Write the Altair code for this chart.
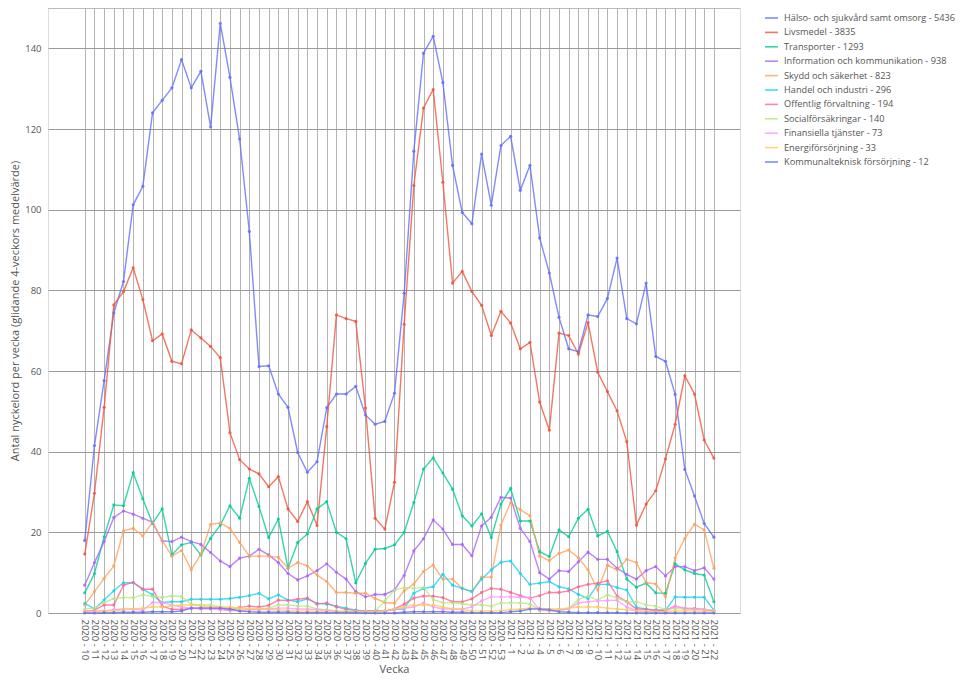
import altair as alt
import pandas as pd

WEEKS = [
    "2020 - 10", "2020 - 11", "2020 - 12", "2020 - 13", "2020 - 14", "2020 - 15", "2020 - 16", "2020 - 17",
    "2020 - 18", "2020 - 19", "2020 - 20", "2020 - 21", "2020 - 22", "2020 - 23", "2020 - 24", "2020 - 25",
    "2020 - 26", "2020 - 27", "2020 - 28", "2020 - 29", "2020 - 30", "2020 - 31", "2020 - 32", "2020 - 33",
    "2020 - 34", "2020 - 35", "2020 - 36", "2020 - 37", "2020 - 38", "2020 - 39", "2020 - 40", "2020 - 41",
    "2020 - 42", "2020 - 43", "2020 - 44", "2020 - 45", "2020 - 46", "2020 - 47", "2020 - 48", "2020 - 49",
    "2020 - 50", "2020 - 51", "2020 - 52", "2020 - 53", "2021 - 1", "2021 - 2", "2021 - 3", "2021 - 4",
    "2021 - 5", "2021 - 6", "2021 - 7", "2021 - 8", "2021 - 9", "2021 - 10", "2021 - 11", "2021 - 12",
    "2021 - 13", "2021 - 14", "2021 - 15", "2021 - 16", "2021 - 17", "2021 - 18", "2021 - 19", "2021 - 20",
    "2021 - 21", "2021 - 22",
]

SERIES = [
    "Hälso- och sjukvård samt omsorg - 5436",
    "Livsmedel - 3835",
    "Transporter - 1293",
    "Information och kommunikation - 938",
    "Skydd och säkerhet - 823",
    "Handel och industri - 296",
    "Offentlig förvaltning - 194",
    "Socialförsäkringar - 140",
    "Finansiella tjänster - 73",
    "Energiförsörjning - 33",
    "Kommunalteknisk försörjning - 12",
]

COLORS = ["#636EFA", "#EF553B", "#00CC96", "#AB63FA", "#FFA15A", "#19D3F3",
          "#FF6692", "#B6E880", "#FF97FF", "#FECB52", "#636EFA"]

halso = [18, 41.5, 57.6, 74.4, 82.2, 101.2, 105.8, 124.0, 127.1, 130.2, 137.2, 130.2, 134.3, 120.5, 146.2,
         132.8, 117.5, 94.6, 61.1, 61.3, 54.3, 51.0, 39.8, 34.9, 37.5, 50.9, 54.3, 54.3, 56.2, 49.1, 46.8,
         47.5, 54.5, 79.3, 114.5, 138.8, 143.0, 131.5, 111.0, 99.3, 96.5, 113.8, 101.1, 115.9, 118.2, 104.8,
         111.0, 93.0, 84.3, 73.3, 65.5, 64.8, 73.9, 73.5, 78.0, 88.0, 73.0, 71.7, 81.8, 63.6, 62.4, 54.2,
         35.6, 29.0, 22.2, 18.8]
livsmedel = [14.6, 29.7, 51.0, 76.4, 79.7, 85.6, 77.7, 67.5, 69.2, 62.4, 61.8, 70.2, 68.2, 66.1, 63.3, 44.7,
             38.0, 35.7, 34.5, 31.3, 33.8, 25.8, 22.7, 27.6, 21.7, 46.2, 73.9, 73.0, 72.3, 50.8, 23.5, 20.8,
             32.4, 71.6, 106.0, 125.2, 129.8, 106.8, 81.8, 84.7, 79.7, 76.3, 68.8, 74.8, 71.9, 65.5, 67.1,
             52.3, 45.3, 69.4, 68.8, 64.2, 72.0, 59.7, 54.9, 50.1, 42.5, 21.8, 27.0, 30.3, 38.2, 46.8, 58.8,
             54.3, 42.9, 38.4]
transport = [5.0, 9.8, 18.9, 26.8, 26.6, 34.8, 28.3, 22.2, 25.8, 14.4, 16.9, 17.5, 14.4, 18.5, 21.8, 26.6,
             23.5, 33.4, 26.4, 18.7, 23.3, 11.1, 17.5, 19.6, 25.8, 27.6, 20.0, 18.4, 7.5, 12.3, 15.8, 16.0,
             16.9, 20.0, 27.4, 35.7, 38.5, 34.7, 30.7, 24.1, 21.6, 24.6, 18.7, 27.0, 30.9, 22.8, 22.8, 15.2,
             14.0, 20.6, 18.9, 23.5, 25.7, 19.1, 20.3, 15.2, 8.4, 6.4, 7.4, 5.0, 4.9, 12.2, 10.7, 9.8, 9.4, 2.8]
info = [6.9, 12.5, 17.7, 23.7, 25.3, 24.5, 23.5, 22.5, 17.9, 17.7, 18.8, 17.7, 17.0, 15.0, 12.9, 11.5, 13.6,
        14.1, 15.8, 14.4, 12.5, 9.8, 8.2, 9.2, 10.5, 12.2, 10.1, 8.4, 5.3, 4.0, 4.6, 4.6, 5.7, 9.3, 15.4,
        18.4, 23.1, 20.8, 17.0, 17.0, 14.2, 21.6, 23.7, 28.7, 28.5, 21.0, 17.7, 10.0, 8.4, 10.5, 10.3, 12.7,
        15.1, 13.3, 13.3, 11.1, 9.6, 8.4, 10.5, 11.5, 9.2, 11.5, 11.5, 10.5, 11.2, 8.4]
skydd = [2.0, 5.3, 8.6, 11.7, 20.4, 21.0, 19.1, 22.5, 18.0, 14.1, 15.5, 10.7, 14.6, 22.0, 22.3, 21.0, 17.5,
         14.1, 14.1, 14.1, 13.8, 11.1, 12.5, 11.7, 9.4, 7.8, 5.1, 5.1, 4.9, 4.9, 3.6, 2.6, 2.4, 5.5, 7.2,
         10.3, 11.9, 8.4, 8.4, 6.1, 5.3, 8.9, 8.9, 21.8, 27.4, 25.6, 24.1, 14.1, 13.0, 14.8, 15.6, 13.7,
         10.7, 5.7, 11.9, 10.7, 13.3, 12.5, 7.5, 7.2, 4.0, 13.7, 18.5, 22.0, 20.6, 11.1]
handel = [2.4, 1.0, 3.2, 5.5, 7.5, 7.5, 5.9, 4.5, 2.6, 2.8, 2.8, 3.4, 3.4, 3.4, 3.4, 3.6, 3.9, 4.3, 4.9, 3.5,
          4.5, 3.2, 2.8, 3.5, 2.4, 2.2, 1.7, 1.2, 0.7, 0.5, 0.5, 0.5, 0.9, 1.0, 4.9, 6.1, 6.5, 9.6, 6.9, 6.1,
          5.3, 8.4, 10.7, 12.6, 12.9, 9.8, 7.1, 7.4, 7.8, 6.5, 6.0, 4.6, 3.6, 7.1, 7.1, 6.3, 5.7, 1.4, 1.0,
          0.7, 0.7, 4.0, 3.9, 3.9, 3.9, 0.7]
offentlig = [0.3, 0.7, 2.0, 2.0, 6.9, 7.6, 5.9, 5.9, 1.7, 0.9, 0.9, 1.2, 1.2, 1.2, 1.1, 0.7, 1.4, 1.7, 1.5,
             1.9, 3.2, 3.1, 3.4, 3.7, 2.2, 2.5, 1.5, 0.9, 0.6, 0.5, 0.5, 0.5, 1.0, 2.2, 3.7, 4.2, 4.2, 3.8,
             2.8, 2.8, 3.5, 5.1, 6.1, 5.9, 5.1, 4.3, 3.7, 4.3, 5.1, 5.1, 5.5, 6.5, 7.1, 7.4, 8.0, 4.2, 2.8,
             1.0, 0.9, 0.7, 0.7, 1.7, 1.1, 1.1, 0.9, 0.5]
social = [1.0, 1.2, 2.6, 3.6, 3.8, 3.8, 4.5, 4.1, 3.9, 4.2, 4.1, 2.2, 2.0, 2.0, 1.5, 1.2, 1.0, 1.0, 1.0, 1.2,
          2.0, 2.0, 1.7, 1.7, 1.0, 0.8, 0.6, 0.5, 0.4, 0.4, 0.4, 3.0, 5.7, 6.3, 6.1, 6.3, 3.3, 2.6, 2.5, 2.3,
          2.0, 2.0, 1.7, 2.5, 2.5, 2.5, 2.2, 0.7, 0.5, 0.5, 1.1, 3.3, 4.2, 3.2, 4.5, 3.7, 2.8, 2.8, 2.0, 1.7,
          0.9, 1.1, 0.9, 0.9, 0.9, 0.7]
finans = [0.5, 0.5, 0.6, 0.8, 1.0, 1.0, 0.7, 2.6, 2.6, 2.0, 1.5, 1.2, 1.0, 1.0, 0.8, 0.6, 0.6, 0.8, 0.8, 1.0,
          1.2, 1.2, 1.0, 1.0, 0.8, 0.6, 0.4, 0.3, 0.3, 0.3, 0.3, 0.5, 0.8, 1.2, 1.5, 2.5, 1.5, 1.0, 1.0, 1.0,
          1.5, 3.0, 4.0, 4.0, 4.0, 3.9, 3.8, 0.7, 0.6, 0.8, 1.0, 2.5, 2.8, 3.0, 3.1, 3.2, 1.5, 0.5, 0.4, 0.4,
          0.4, 1.7, 1.2, 1.0, 0.8, 0.5]
energi = [0.2, 0.3, 0.5, 0.5, 0.8, 1.0, 1.2, 1.5, 1.5, 1.8, 2.0, 2.0, 1.8, 1.5, 1.5, 1.5, 1.2, 1.0, 1.0, 0.8,
          0.8, 0.6, 0.5, 0.5, 0.3, 0.3, 0.2, 0.2, 0.2, 0.2, 0.3, 0.5, 1.0, 1.5, 2.0, 2.0, 2.0, 1.5, 1.0, 0.8,
          0.6, 0.5, 0.5, 0.6, 0.8, 1.0, 1.2, 1.2, 1.0, 1.0, 1.2, 1.5, 1.5, 1.5, 1.2, 1.0, 0.8, 0.5, 0.3, 0.3,
          0.3, 0.5, 0.5, 0.5, 0.4, 0.3]
kommunal = [0.0, 0.0, 0.1, 0.1, 0.2, 0.2, 0.2, 0.3, 0.3, 0.3, 0.5, 1.2, 1.2, 1.2, 1.2, 1.0, 0.5, 0.3, 0.2, 0.2,
            0.2, 0.2, 0.1, 0.1, 0.1, 0.1, 0.1, 0.1, 0.1, 0.0, 0.0, 0.0, 0.0, 0.2, 0.3, 0.3, 0.3, 0.3, 0.2, 0.2,
            0.1, 0.1, 0.1, 0.1, 0.3, 0.5, 1.0, 1.0, 0.8, 0.3, 0.2, 0.1, 0.1, 0.1, 0.1, 0.1, 0.0, 0.0, 0.0, 0.0,
            0.0, 0.0, 0.0, 0.0, 0.0, 0.0]

VALUES = [halso, livsmedel, transport, info, skydd, handel, offentlig, social, finans, energi, kommunal]
Y_TICKS = [0, 20, 40, 60, 80, 100, 120, 140]

rows = []
for k, (name, vals) in enumerate(zip(SERIES, VALUES)):
    for i, v in enumerate(vals):
        rows.append({"idx": i, "vecka": WEEKS[i], "serie": name, "value": v, "ord": k})
df = pd.DataFrame(rows)

label_expr = "[" + ",".join("'" + w + "'" for w in WEEKS) + "][datum.value]"
FONT = "Open Sans"

x = alt.X(
    "idx:Q",
    scale=alt.Scale(domain=[-3.8, 67.7], nice=False, zero=False),
    axis=alt.Axis(
        values=list(range(len(WEEKS))), labelExpr=label_expr, labelAngle=90,
        labelAlign="left", labelBaseline="middle", labelOverlap=False,
        title="Vecka", grid=True, gridColor="#b4b4b4", gridWidth=1, ticks=False, domain=False,
        labelFontSize=9.5, labelColor="#555", labelFont=FONT, labelPadding=6,
        titleFontSize=11, titleColor="#555", titleFont=FONT, titleFontWeight="normal", titlePadding=4,
    ),
)
y = alt.Y(
    "value:Q",
    scale=alt.Scale(domain=[0, 150], nice=False),
    axis=alt.Axis(
        values=Y_TICKS, title="Antal nyckelord per vecka (glidande 4-veckors medelvärde)",
        grid=True, gridColor="#9a9a9a", ticks=False, domain=False,
        labelFontSize=9.5, labelColor="#555", labelFont=FONT, labelPadding=7,
        titleFontSize=11, titleColor="#555", titleFont=FONT, titleFontWeight="normal", titlePadding=4,
    ),
)
color = alt.Color(
    "serie:N",
    scale=alt.Scale(domain=SERIES, range=COLORS),
    sort=SERIES,
    legend=alt.Legend(
        title=None, orient="none", legendX=716, legendY=2.5, symbolType="stroke",
        symbolSize=169, symbolStrokeWidth=1.6, labelFontSize=9.2, labelFont=FONT, labelColor="#555",
        labelLimit=400, rowPadding=1.4, symbolOffset=0, labelOffset=5,
    ),
)

lines = alt.Chart(df).mark_line(
    strokeWidth=1.4, opacity=0.8,
    point=alt.OverlayMarkDef(size=10, filled=True, opacity=0.85),
).encode(x=x, y=y, color=color, order="idx:Q", detail="serie:N")

top = alt.Chart(pd.DataFrame({"v": [150]})).mark_rule(color="#9a9a9a", strokeWidth=1).encode(y="v:Q")

chart = alt.layer(top, lines).properties(
    width=692, height=605,
    padding={"left": 40, "top": 0, "right": 217, "bottom": 66},
    autosize=alt.AutoSizeParams(type="none"),
).configure_view(stroke=None).configure(background="white")

chart.save("out.html", embed_options={"renderer": "svg", "actions": False})
